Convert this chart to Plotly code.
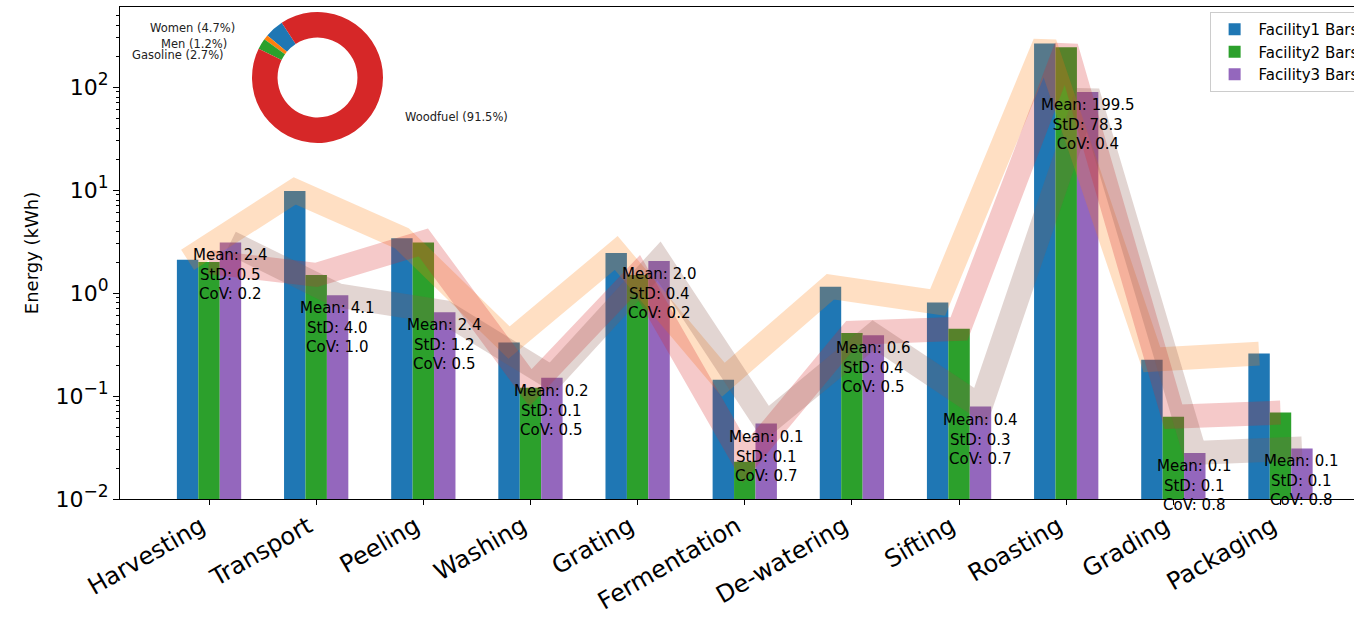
import plotly.graph_objects as go
import math

# ---------------- data ----------------
categories = ["Harvesting", "Transport", "Peeling", "Washing", "Grating", "Fermentation",
              "De-watering", "Sifting", "Roasting", "Grading", "Packaging"]
facility1 = [2.1, 9.8, 3.4, 0.33, 2.45, 0.144, 1.15, 0.81, 265, 0.225, 0.258]
facility2 = [2.0, 1.5, 3.1, 0.12, 1.5, 0.023, 0.41, 0.45, 244, 0.063, 0.069]
facility3 = [3.1, 0.95, 0.65, 0.15, 2.05, 0.054, 0.39, 0.079, 89.5, 0.028, 0.031]
stat_mean = ["2.4", "4.1", "2.4", "0.2", "2.0", "0.1", "0.6", "0.4", "199.5", "0.1", "0.1"]
stat_std = ["0.5", "4.0", "1.2", "0.1", "0.4", "0.1", "0.4", "0.3", "78.3", "0.1", "0.1"]
stat_cov = ["0.2", "1.0", "0.5", "0.5", "0.2", "0.7", "0.5", "0.7", "0.4", "0.8", "0.8"]
series_names = ["Facility1 Bars", "Facility2 Bars", "Facility3 Bars"]

pie_labels = ["Women", "Men", "Gasoline", "Woodfuel"]
pie_values = [4.7, 1.2, 2.7, 91.5]

y_tickvals = [0.01, 0.1, 1, 10, 100]
y_exponents = ["\u22122", "\u22121", "0", "1", "2"]

# ---------------- style / layout constants ----------------
bar_colors = ["#1f77b4", "#2ca02c", "#9467bd"]
line_colors = ["rgba(255,127,14,0.25)", "rgba(214,39,40,0.25)", "rgba(140,86,75,0.25)"]
pie_colors = ["#1f77b4", "#ff7f0e", "#2ca02c", "#d62728"]
FONT = "DejaVu Sans"

W, H = 1354, 618
ML, MR, MT, MB = 120, 0, 7, 119
PW, PH = W - ML - MR, H - MT - MB

def px_to_paper(px, py):
    return (px - ML) / PW, (H - MB - py) / PH

# donut geometry (pixels)
pie_cx, pie_cy, pie_r = 317.5, 77.5, 65.5
pie_start_deg = 140.0
label_dist = 1.44

idx = list(range(len(categories)))
offsets = [-0.2, 0.0, 0.2]
series = [facility1, facility2, facility3]

fig = go.Figure()

for name, vals, col in zip(series_names, series, bar_colors):
    fig.add_trace(go.Bar(x=idx, y=vals, name=name, marker=dict(color=col, line=dict(width=0)),
                         hoverinfo="skip"))

for vals, off, lc in zip(series, offsets, line_colors):
    fig.add_trace(go.Scatter(x=[i + off for i in idx], y=vals, mode="lines",
                             line=dict(color=lc, width=24), showlegend=False, hoverinfo="skip"))

x0, y0 = px_to_paper(pie_cx - pie_r, pie_cy + pie_r)
x1, y1 = px_to_paper(pie_cx + pie_r, pie_cy - pie_r)
fig.add_trace(go.Pie(labels=pie_labels, values=pie_values, sort=False,
                     direction="counterclockwise", rotation=90 - pie_start_deg, hole=0.61,
                     marker=dict(colors=pie_colors, line=dict(width=0)),
                     textinfo="none", domain=dict(x=[x0, x1], y=[y0, y1]),
                     showlegend=False, hoverinfo="skip"))

# pie labels (matplotlib-style: placed radially at the middle angle of each wedge)
total = sum(pie_values)
ang = pie_start_deg
for lab, v in zip(pie_labels, pie_values):
    span = 360.0 * v / total
    mid = math.radians(ang + span / 2)
    ang += span
    lx = pie_cx + label_dist * pie_r * math.cos(mid)
    ly = pie_cy - label_dist * pie_r * math.sin(mid)
    ax, ay = px_to_paper(lx, ly)
    fig.add_annotation(x=ax, y=ay, xref="paper", yref="paper", text=f"{lab} ({v}%)",
                       showarrow=False, xanchor="right" if math.cos(mid) < 0 else "left",
                       yanchor="middle", font=dict(family=FONT, size=11.5, color="#222"))

for i in idx:
    fig.add_annotation(x=i + 0.2, y=math.log10(facility3[i]), xref="x", yref="y",
                       text=f"Mean: {stat_mean[i]}<br>StD: {stat_std[i]}<br>CoV: {stat_cov[i]}",
                       showarrow=False, yanchor="top", xanchor="center", align="center",
                       yshift=-2, font=dict(family=FONT, size=15, color="black"))

y_ticktext = [f"10<sup><span style='font-size:17px'>{e}</span></sup>" for e in y_exponents]

fig.update_layout(
    width=W, height=H,
    margin=dict(l=ML, r=MR, t=MT, b=MB, autoexpand=False),
    paper_bgcolor="white", plot_bgcolor="white",
    barmode="group", bargap=0.4, bargroupgap=0,
    font=dict(family=FONT, color="black"),
    legend=dict(x=0.883, y=0.99, xanchor="left", yanchor="top", itemwidth=38,
                bgcolor="rgba(255,255,255,0.8)", bordercolor="#cccccc", borderwidth=1,
                font=dict(family=FONT, size=15), tracegroupgap=0),
    showlegend=True,
)

fig.update_xaxes(range=[-0.831, 10.686], tickmode="array", tickvals=idx, ticktext=categories,
                 tickangle=-30, tickfont=dict(family=FONT, size=24), ticks="outside", ticklen=5,
                 tickcolor="black", showline=True, linecolor="black", linewidth=1, mirror=True,
                 showgrid=False, zeroline=False, automargin=False, ticklabelshift=-8,
                 ticklabelstandoff=-2)

fig.update_yaxes(type="log", range=[-2, 2.777], tickmode="array", tickvals=y_tickvals,
                 ticktext=y_ticktext, tickfont=dict(family=FONT, size=22), ticks="outside",
                 ticklen=6, tickcolor="black", showline=True, linecolor="black", linewidth=1,
                 mirror=False, showgrid=False, zeroline=False, automargin=False,
                 minor=dict(ticks="outside", ticklen=3, tickcolor="black", dtick="D1", showgrid=False),
                 title=dict(text="Energy (kWh)", font=dict(family=FONT, size=18), standoff=12))

fig.write_html("out.html", config={"displayModeBar": False},
               post_script="document.body.style.margin='0';document.body.style.overflow='hidden';")
